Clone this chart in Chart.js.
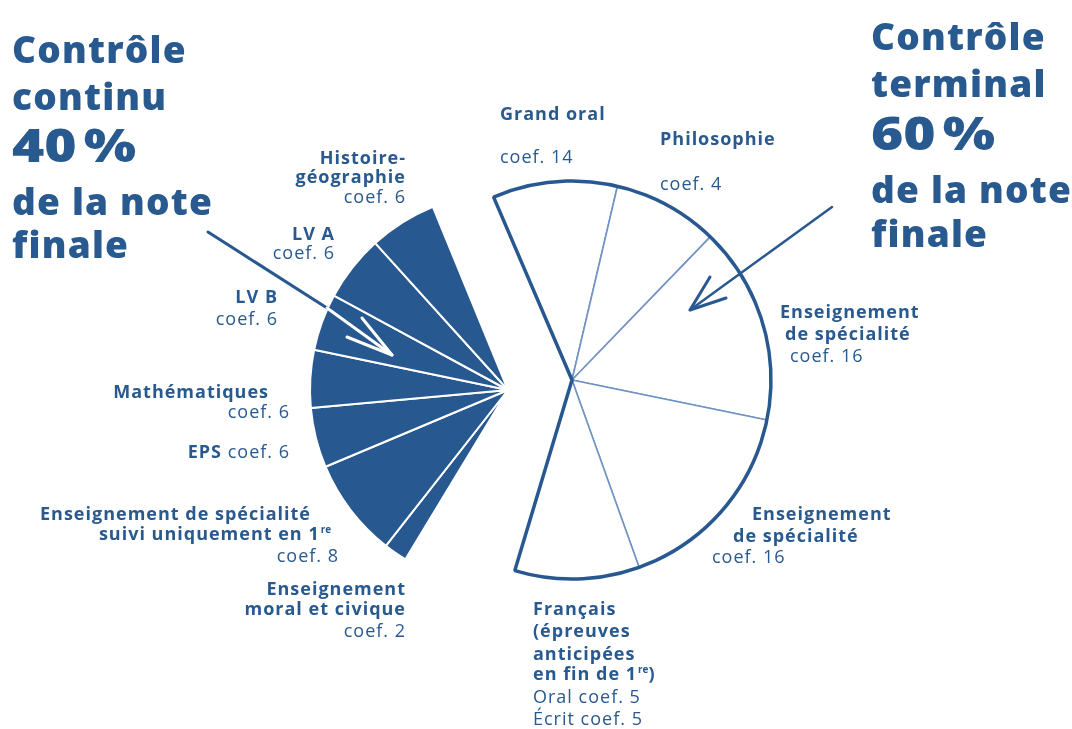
<!DOCTYPE html>
<html lang="fr">
<head>
<meta charset="utf-8">
<title>Contrôle continu / contrôle terminal</title>
<script src="https://cdn.jsdelivr.net/npm/chart.js@4.4.1/dist/chart.umd.min.js"></script>
<style>
  html, body { margin: 0; padding: 0; background: #fff; }
  #stage { position: relative; width: 1072px; height: 729px; overflow: hidden;
           font-family: 'Open Sans', sans-serif; color: #28598f; }
  .pie { position: absolute; width: 440px; height: 440px; }
  .t { position: absolute; white-space: nowrap; }
  .t sup { font-size: 0.55em; vertical-align: 0; position: relative; top: -0.75em; margin-left: 1px; letter-spacing: 0; }
  .big { transform: scaleX(1.2); transform-origin: left center; }
  #arrows { position: absolute; left: 0; top: 0; pointer-events: none; }
</style>
</head>
<body>
<div id="stage">
  <div class="pie" id="boxCC" style="left:288px;top:170px"><canvas id="pieCC"></canvas></div>
  <div class="pie" id="boxCT" style="left:352px;top:160px"><canvas id="pieCT"></canvas></div>
  <div class="pie" id="boxCTo" style="left:352px;top:160px"><canvas id="pieCTOutline"></canvas></div>
  <svg id="arrows" width="1072" height="729"></svg>
</div>
<script>
// controle continu (40 %) - sectors read clockwise from the bottom-left edge
const ccLabels = ['Enseignement moral et civique', 'Enseignement de spécialité suivi uniquement en 1re',
  'EPS', 'Mathématiques', 'LV B', 'LV A', 'Histoire-géographie']
const ccCoefs = [2, 8, 6, 6, 6, 6, 6]
const ccAngles = [6.9, 29.1, 17.6, 16.9, 16.8, 19.4, 19.8]   // degrees
const ccStart = -148.8

// controle terminal (60 %) - clockwise from the top edge
const ctLabels = ['Grand oral', 'Philosophie', 'Enseignement de spécialité', 'Enseignement de spécialité', 'Français']
const ctCoefs = [14, 4, 16, 16, 10]
const ctAngles = [36.4, 30.8, 57.6, 58.7, 36.4]
const ctStart = -23.2

const navy = '#285890'
const lightLine = '#7193c3'

const sum = (arr) => arr.reduce((a, b) => a + b, 0)

function pieOptions(rotation, radius) {
  return {
    responsive: true,
    maintainAspectRatio: false,
    animation: false,
    events: [],
    rotation: rotation,
    circumference: 360,
    radius: radius,
    layout: { padding: 0 },
    plugins: { legend: { display: false }, tooltip: { enabled: false } },
  }
}

// left part, filled
const ccGap = 360 - sum(ccAngles)
new Chart(document.getElementById('pieCC'), {
  type: 'pie',
  data: {
    labels: [...ccLabels.map((l, i) => l + ' coef. ' + ccCoefs[i]), ''],
    datasets: [{
      data: [...ccAngles, ccGap],
      backgroundColor: [...ccAngles.map(() => navy), 'rgba(0,0,0,0)'],
      borderColor: [...ccAngles.map(() => '#ffffff'), 'rgba(0,0,0,0)'],
      borderWidth: [...ccAngles.map(() => 2), 0],
    }],
  },
  options: pieOptions(ccStart, 198),
})

// right part, white with thin inner lines
const ctGap = 360 - sum(ctAngles)
new Chart(document.getElementById('pieCT'), {
  type: 'pie',
  data: {
    labels: [...ctLabels.map((l, i) => l + ' coef. ' + ctCoefs[i]), ''],
    datasets: [{
      data: [...ctAngles, ctGap],
      backgroundColor: [...ctAngles.map(() => '#ffffff'), 'rgba(0,0,0,0)'],
      borderColor: [...ctAngles.map(() => lightLine), 'rgba(0,0,0,0)'],
      borderWidth: [...ctAngles.map(() => 1.6), 0],
    }],
  },
  options: pieOptions(ctStart, 199),
})

// thick outline round the whole right part
new Chart(document.getElementById('pieCTOutline'), {
  type: 'pie',
  data: {
    labels: ['Contrôle terminal', ''],
    datasets: [{
      data: [sum(ctAngles), ctGap],
      backgroundColor: ['rgba(0,0,0,0)', 'rgba(0,0,0,0)'],
      borderColor: [navy, 'rgba(0,0,0,0)'],
      borderWidth: [3.5, 0],
    }],
  },
  options: pieOptions(ctStart, 199),
})

// texts: [x, baseline, align, size, weight, html]
const textLines = [
  [12, 63, 'left', 37, 800, 'Contrôle'],
  [12, 110, 'left', 37, 800, 'continu'],
  [12, 162, 'left', 46, 800, '40\u202f%'],
  [12, 215, 'left', 37, 800, 'de la note'],
  [12, 258, 'left', 37, 800, 'finale'],

  [871, 50, 'left', 37, 800, 'Contrôle'],
  [871, 97, 'left', 37, 800, 'terminal'],
  [871, 150, 'left', 46, 800, '60\u202f%'],
  [871, 203, 'left', 37, 800, 'de la note'],
  [871, 247, 'left', 37, 800, 'finale'],

  [405, 164, 'right', 18, 700, 'Histoire-'],
  [405, 183, 'right', 18, 700, 'géographie'],
  [405, 203, 'right', 18, 400, 'coef. 6'],
  [334, 240, 'right', 18, 700, 'LV A'],
  [334, 259, 'right', 18, 400, 'coef. 6'],
  [277, 303, 'right', 18, 700, 'LV B'],
  [277, 325, 'right', 18, 400, 'coef. 6'],
  [268, 398, 'right', 18, 700, 'Mathématiques'],
  [289, 418, 'right', 18, 400, 'coef. 6'],
  [289, 458, 'right', 18, 400, '<b>EPS</b> coef. 6'],
  [310, 520, 'right', 18, 700, 'Enseignement de spécialité'],
  [330, 540, 'right', 18, 700, 'suivi uniquement en 1<sup>re</sup>'],
  [338, 562, 'right', 18, 400, 'coef. 8'],
  [405, 595, 'right', 18, 700, 'Enseignement'],
  [405, 615, 'right', 18, 700, 'moral et civique'],
  [405, 637, 'right', 18, 400, 'coef. 2'],

  [500, 120, 'left', 18, 700, 'Grand oral'],
  [500, 163, 'left', 18, 400, 'coef. 14'],
  [660, 145, 'left', 18, 700, 'Philosophie'],
  [660, 190, 'left', 18, 400, 'coef. 4'],
  [780, 318, 'left', 18, 700, 'Enseignement'],
  [785, 340, 'left', 18, 700, 'de spécialité'],
  [790, 362, 'left', 18, 400, 'coef. 16'],
  [752, 520, 'left', 18, 700, 'Enseignement'],
  [733, 542, 'left', 18, 700, 'de spécialité'],
  [712, 563, 'left', 18, 400, 'coef. 16'],
  [533, 615, 'left', 18, 700, 'Français'],
  [533, 637, 'left', 18, 700, '(épreuves'],
  [533, 660, 'left', 18, 700, 'anticipées'],
  [533, 680, 'left', 18, 700, 'en fin de 1<sup>re</sup>)'],
  [533, 703, 'left', 18, 400, 'Oral coef. 5'],
  [533, 725, 'left', 18, 400, 'Écrit coef. 5'],
]

const stage = document.getElementById('stage')
textLines.forEach(([x, base, align, size, weight, html]) => {
  const d = document.createElement('div')
  // titles get a wider tracking, labels a little
  const spacing = size >= 40 ? 1 : size >= 30 ? 1.2 : 1
  d.className = size >= 40 ? 't big' : 't'
  d.style.fontSize = size + 'px'
  d.style.lineHeight = size + 'px'
  d.style.fontWeight = weight
  d.style.letterSpacing = spacing + 'px'
  d.style.top = (base - 0.888 * size) + 'px'   // open sans baseline offset
  if (align === 'right') d.style.right = (1072 - x - spacing) + 'px'
  else d.style.left = x + 'px'
  d.innerHTML = html
  stage.appendChild(d)
})

// the two arrows
const svg = document.getElementById('arrows')
svg.innerHTML = `
  <line x1="208" y1="232" x2="327" y2="308" stroke="${navy}" stroke-width="3" stroke-linecap="round"/>
  <line x1="327" y1="308" x2="392" y2="355" stroke="#ffffff" stroke-width="3" stroke-linecap="round"/>
  <polyline points="347,337 392,355 362,318" fill="none" stroke="#ffffff" stroke-width="3"
    stroke-linecap="round" stroke-linejoin="round"/>
  <line x1="832" y1="207" x2="690" y2="310" stroke="${navy}" stroke-width="2.5" stroke-linecap="round"/>
  <polyline points="710,277 690,310 726,298" fill="none" stroke="${navy}" stroke-width="3"
    stroke-linecap="round" stroke-linejoin="round"/>
`
</script>
</body>
</html>
